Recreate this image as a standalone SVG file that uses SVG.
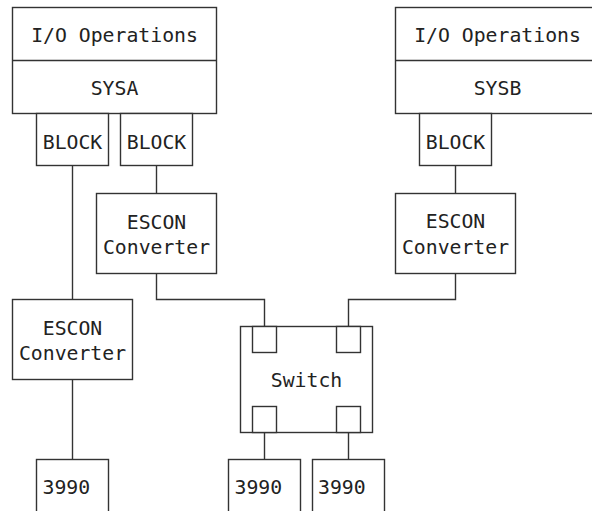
<svg xmlns="http://www.w3.org/2000/svg" width="592" height="511" viewBox="0 0 592 511">
<style>
.b{fill:#fff;stroke:#333;stroke-width:1.4}
.l{fill:none;stroke:#333;stroke-width:1.4}
text{font-family:"DejaVu Sans Mono","Liberation Mono",monospace;font-size:19.8px;fill:#222}
.c{text-anchor:middle}
</style>
<rect width="592" height="511" fill="#fff"/>
<g id="connectors">
<path class="l" d="M72.5 165.5V299.5"/>
<path class="l" d="M72.5 379.5V459.5"/>
<path class="l" d="M156.5 165.5V193.5"/>
<path class="l" d="M156.5 273.5V299.5H264.5V326.5"/>
<path class="l" d="M455.5 165.5V193.5"/>
<path class="l" d="M455.5 273.5V299.5H348.5V326.5"/>
<path class="l" d="M264.5 432.5V459.5"/>
<path class="l" d="M348.5 432.5V459.5"/>
</g>
<g id="sysa">
<rect class="b" x="12.5" y="7.5" width="204" height="106"/>
<path class="l" d="M12.5 60.5H216.5"/>
<text class="c" x="114.5" y="41.5">I/O Operations</text>
<text class="c" x="114.5" y="94.5">SYSA</text>
</g>
<g id="sysb">
<rect class="b" x="395.5" y="7.5" width="204" height="106"/>
<path class="l" d="M395.5 60.5H599.5"/>
<text class="c" x="497.5" y="41.5">I/O Operations</text>
<text class="c" x="497.5" y="94.5">SYSB</text>
</g>
<g id="blockA1">
<rect class="b" x="36.5" y="113.5" width="72" height="52"/>
<text class="c" x="72.5" y="148.5">BLOCK</text>
</g>
<g id="blockA2">
<rect class="b" x="120.5" y="113.5" width="72" height="52"/>
<text class="c" x="156.5" y="148.5">BLOCK</text>
</g>
<g id="blockB">
<rect class="b" x="419.5" y="113.5" width="72" height="52"/>
<text class="c" x="455.5" y="148.5">BLOCK</text>
</g>
<g id="esconA">
<rect class="b" x="96.5" y="193.5" width="120" height="80"/>
<text class="c" x="156.5" y="228.5">ESCON</text>
<text class="c" x="156.5" y="253.5">Converter</text>
</g>
<g id="esconB">
<rect class="b" x="395.5" y="193.5" width="120" height="80"/>
<text class="c" x="455.5" y="228">ESCON</text>
<text class="c" x="455.5" y="253.5">Converter</text>
</g>
<g id="esconC">
<rect class="b" x="12.5" y="299.5" width="120" height="80"/>
<text class="c" x="72.5" y="334.5">ESCON</text>
<text class="c" x="72.5" y="359.5">Converter</text>
</g>
<g id="switch">
<rect class="b" x="240.5" y="326.5" width="132" height="106"/>
<rect class="b" x="252.5" y="326.5" width="24" height="26"/>
<rect class="b" x="336.5" y="326.5" width="24" height="26"/>
<rect class="b" x="252.5" y="406.5" width="24" height="26"/>
<rect class="b" x="336.5" y="406.5" width="24" height="26"/>
<text class="c" x="306.5" y="386.5">Switch</text>
</g>
<g id="dev1">
<rect class="b" x="36.5" y="459.5" width="72" height="70"/>
<text x="42.5" y="494">3990</text>
</g>
<g id="dev2">
<rect class="b" x="228.5" y="459.5" width="72" height="70"/>
<text x="234.5" y="494">3990</text>
</g>
<g id="dev3">
<rect class="b" x="312.5" y="459.5" width="72" height="70"/>
<text x="318" y="494">3990</text>
</g>
</svg>
